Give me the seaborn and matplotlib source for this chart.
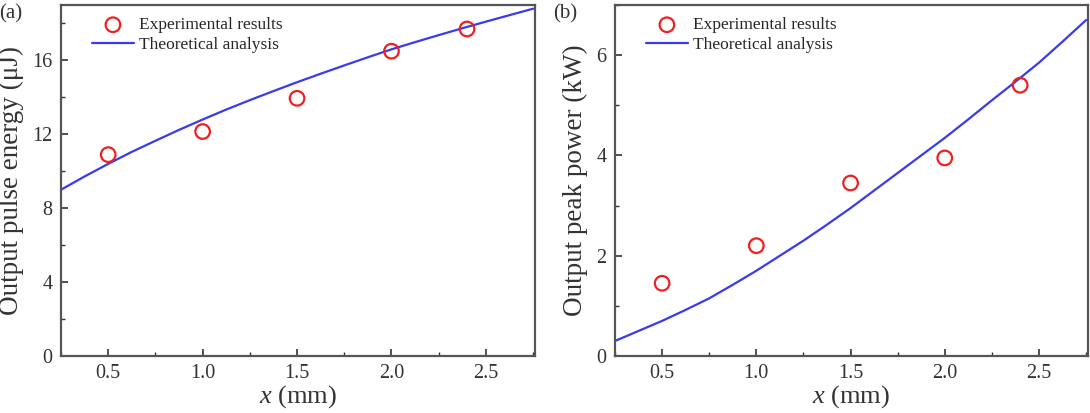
import matplotlib
matplotlib.use("Agg")
import matplotlib.pyplot as plt
import seaborn as sns
import pandas as pd
from matplotlib.ticker import MultipleLocator

# Experimental points
x_exp = [0.5, 1.0, 1.5, 2.0, 2.4]
energy_exp = [10.9, 12.15, 13.95, 16.5, 17.7]
power_exp = [1.45, 2.2, 3.45, 3.95, 5.4]

# Theoretical curves
x_theory = [0.25, 0.375, 0.5, 0.625, 0.75, 0.875, 1.0, 1.125, 1.25, 1.375, 1.5,
            1.625, 1.75, 1.875, 2.0, 2.125, 2.25, 2.375, 2.5, 2.625, 2.75]
energy_theory = [9.0, 9.72, 10.4, 11.05, 11.65, 12.24, 12.8, 13.34, 13.85, 14.34, 14.82,
                 15.28, 15.73, 16.17, 16.6, 16.99, 17.37, 17.74, 18.1, 18.45, 18.8]
power_theory = [0.3, 0.5, 0.7, 0.92, 1.15, 1.42, 1.7, 2.0, 2.3, 2.62, 2.95,
                3.3, 3.65, 4.0, 4.35, 4.72, 5.1, 5.47, 5.85, 6.27, 6.7]

sns.set_theme(style="white")
plt.rcParams['font.family'] = ['Liberation Serif', 'DejaVu Serif']
plt.rcParams['mathtext.fontset'] = 'custom'
plt.rcParams['mathtext.it'] = 'Liberation Serif:italic'
plt.rcParams['mathtext.rm'] = 'Liberation Serif'

fig = plt.figure(figsize=(10.9, 4.13), dpi=100)
ax1 = fig.add_axes([61/1090, 1-356/413, 474/1090, 351/413])
ax2 = fig.add_axes([615/1090, 1-356/413, 473/1090, 351/413])

panels = [
    (ax1, energy_exp, energy_theory, "Output pulse energy (μJ)", (0, 19), 4, 2, "(a)"),
    (ax2, power_exp, power_theory, "Output peak power (kW)", (0, 7), 2, 1, "(b)"),
]

for ax, yexp, ytheo, ylabel, ylim, major, minor, tag in panels:
    dfe = pd.DataFrame({"x": x_exp, "y": yexp})
    dft = pd.DataFrame({"x": x_theory, "y": ytheo})
    sns.lineplot(data=dft, x="x", y="y", ax=ax, color="#3a3aee", lw=1.6,
                 label="Theoretical analysis")
    sns.scatterplot(data=dfe, x="x", y="y", ax=ax, marker="o", s=110,
                    facecolor="none", edgecolor="#ee2020", linewidth=1.6,
                    label="Experimental results", zorder=3)
    ax.set_xlim(0.25, 2.76)
    ax.set_ylim(*ylim)
    ax.xaxis.set_major_locator(MultipleLocator(0.5))
    ax.xaxis.set_minor_locator(MultipleLocator(0.25))
    ax.yaxis.set_major_locator(MultipleLocator(major))
    ax.yaxis.set_minor_locator(MultipleLocator(minor))
    ax.set_xticks([0.5, 1.0, 1.5, 2.0, 2.5])
    ax.set_xticklabels(["0.5", "1.0", "1.5", "2.0", "2.5"])
    ax.tick_params(which="major", direction="in", length=5, width=1.2,
                   labelsize=14.5, colors="#333333", pad=6)
    ax.tick_params(which="minor", direction="in", length=3, width=1.0,
                   colors="#333333")
    ax.tick_params(axis="both", which="both", bottom=True, left=True,
                   top=False, right=False)
    for s in ax.spines.values():
        s.set_color("#555555")
        s.set_linewidth(1.6)
    ax.set_xlabel(r"$x$ (mm)", fontsize=19, color="#333333", labelpad=0)
    ax.set_ylabel(ylabel, fontsize=19.5, color="#333333", labelpad=6)
    h, l = ax.get_legend_handles_labels()
    order = [1, 0]
    ax.legend([h[i] for i in order], [l[i] for i in order], loc="upper left",
              bbox_to_anchor=(0.04, 1.0), frameon=False, fontsize=12.5,
              handlelength=2.4, handletextpad=0.3, labelspacing=0.2,
              borderaxespad=0.3)
    ax.text(-0.13, 0.975, tag, transform=ax.transAxes, fontsize=15,
            color="#333333", ha="left", va="center")

fig.savefig("out.png", dpi=100)
